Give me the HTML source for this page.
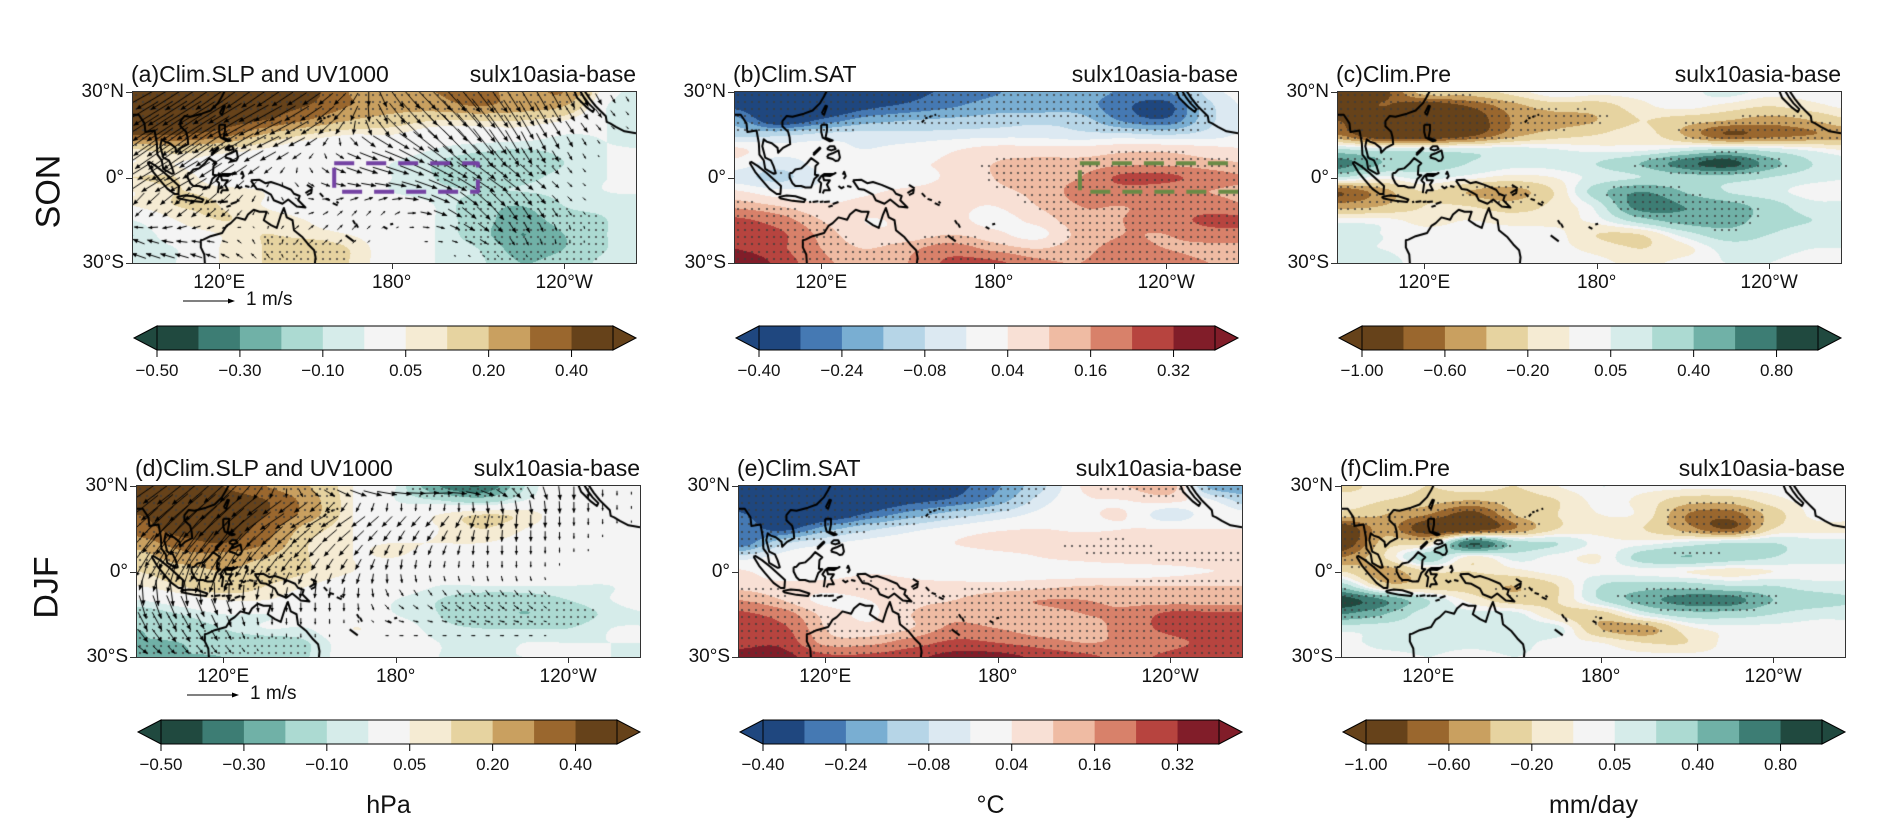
<!DOCTYPE html>
<html><head><meta charset="utf-8">
<style>
body{margin:0;background:#fff;width:1892px;height:838px;position:relative;overflow:hidden;font-family:"Liberation Sans",sans-serif;color:#111}
.abs{position:absolute;white-space:nowrap}
.title{font-size:23px}
.lab{font-size:19px}
.cbl{font-size:17px}
.season{font-size:34px;transform:rotate(-90deg);transform-origin:center}
canvas{position:absolute;display:block}
</style></head>
<body>
<div class="abs season" style="left:12px;top:172px">SON</div>
<div class="abs season" style="left:16px;top:568px">DJF</div>
<div id="root"></div>
<script>
const slpSON=[
[0.45,0.45,0.45,0.45,0.45,0.3,0.3,0.3,0.35,0.25,0.3,0,-0.1],
[0.45,0.45,0.45,0.45,0.4,0.3,0.25,0.25,0.3,0.25,0.2,-0.05,-0.1],
[0.45,0.45,0.45,0.4,0.3,0.2,0.15,0.1,0.1,0.1,0.05,-0.05,-0.1],
[0.4,0.4,0.35,0.2,0.1,0.05,0.05,0,0,0,-0.05,-0.05,-0.1],
[0.1,0.15,0.1,0.05,0,0,0,-0.05,-0.08,-0.1,-0.08,-0.05,-0.05],
[0.05,0.05,0,0,0,0,-0.05,-0.1,-0.15,-0.15,-0.1,-0.05,-0.05],
[0.1,0.1,0,0,0,0,-0.05,-0.1,-0.15,-0.12,-0.08,-0.05,-0.05],
[0.05,0.1,0.08,0.05,0,0,-0.05,-0.08,-0.1,-0.1,-0.08,-0.05,-0.05],
[0.05,0.1,0.1,0.05,0.02,0,0,-0.05,-0.15,-0.2,-0.1,-0.08,-0.05],
[-0.05,0.05,0.1,0.08,0.05,0,0,-0.05,-0.15,-0.25,-0.15,-0.1,-0.05],
[-0.1,0,0.05,0.1,0.08,0.05,0,-0.05,-0.15,-0.3,-0.2,-0.1,-0.08],
[-0.08,-0.05,0.05,0.1,0.15,0.1,0,-0.05,-0.1,-0.25,-0.2,-0.1,-0.08],
[-0.1,-0.05,0.05,0.1,0.15,0.1,0,-0.05,-0.08,-0.2,-0.15,-0.08,-0.08]];
const satSON=[
[-0.45,-0.45,-0.45,-0.4,-0.35,-0.3,-0.25,-0.2,-0.2,-0.25,-0.25,-0.05,0],
[-0.35,-0.45,-0.45,-0.35,-0.3,-0.25,-0.2,-0.2,-0.2,-0.3,-0.35,-0.1,0],
[-0.2,-0.4,-0.3,-0.2,-0.16,-0.14,-0.12,-0.1,-0.12,-0.25,-0.3,-0.1,0],
[-0.1,-0.1,-0.06,-0.05,-0.06,-0.05,-0.04,-0.04,-0.06,-0.06,-0.08,-0.05,0],
[0.05,0,0,-0.02,0,0.03,0.06,0.06,0.06,0.08,0.08,0.06,0.04],
[0.02,-0.05,0,0,0.03,0.05,0.1,0.12,0.12,0.14,0.14,0.12,0.1],
[-0.05,-0.1,-0.02,0.02,0.02,0.05,0.1,0.14,0.16,0.26,0.26,0.2,0.16],
[0.05,0,0,0.03,0.05,0.06,0.08,0.12,0.18,0.2,0.18,0.16,0.14],
[0.14,0.1,0.05,0.06,0.08,0.06,0.04,0.1,0.16,0.16,0.18,0.2,0.16],
[0.26,0.2,0.1,0.04,0.05,0.06,0.02,0.06,0.14,0.16,0.2,0.26,0.26],
[0.3,0.26,0.14,0.06,0.06,0.1,0.06,0.02,0.12,0.16,0.16,0.2,0.2],
[0.32,0.26,0.16,0.1,0.14,0.2,0.14,0.1,0.14,0.18,0.16,0.14,0.14],
[0.4,0.3,0.18,0.14,0.16,0.26,0.26,0.18,0.16,0.2,0.2,0.16,0.16]];
const preSON=[
[-0.9,-0.9,-0.3,-0.3,-0.15,0.05,0,0,0,0.1,0,0,0],
[-1.1,-0.8,-1.0,-0.8,-0.5,-0.3,-0.3,-0.1,0,-0.1,-0.2,-0.1,0],
[-0.8,-1.1,-1.1,-1.0,-0.6,-0.5,-0.4,-0.2,-0.3,-0.4,-0.5,-0.4,-0.2],
[-0.6,-1.1,-1.1,-0.9,-0.5,-0.3,-0.2,-0.1,-0.4,-0.8,-0.7,-0.6,-0.5],
[0.2,0.1,0.1,0.1,0.1,0.05,0,0,0.1,0.2,0.1,0,-0.1],
[0.7,0.4,0.3,0.2,0.1,0.1,0.2,0.4,0.7,0.9,0.5,0.2,0.1],
[0.2,0,0.1,0,-0.1,-0.05,0.1,0.2,0.3,0.3,0.2,0.1,0.05],
[-0.8,-0.5,-0.2,-0.4,-0.5,-0.2,0.3,0.6,0.4,0.2,0.1,0,0],
[-0.5,-0.4,-0.2,-0.2,-0.3,-0.15,0.1,0.7,0.6,0.5,0.3,0.1,0.1],
[0,0,-0.1,-0.05,-0.1,-0.1,0,0.3,0.5,0.5,0.3,0.2,0.15],
[0.1,0.05,0,0,0,0,-0.2,-0.2,0.1,0.3,0.2,0.1,0.1],
[0.05,0.05,0,0,0,0,-0.1,-0.2,-0.1,0.1,0.1,0.05,0.05],
[0.1,0.1,0,0,0,0.05,0,-0.1,0,0.05,0.05,0,0]];
const slpDJF=[
[0.45,0.45,0.4,0.3,0.2,0.05,-0.05,-0.3,-0.4,-0.1,0,0,0],
[0.45,0.45,0.45,0.4,0.25,0.05,-0.05,-0.1,-0.15,-0.05,0,0,0],
[0.4,0.45,0.45,0.4,0.25,0.05,0,0.05,0.1,0.08,0,0,0],
[0.35,0.45,0.45,0.35,0.15,0.05,0,0.05,0.1,0.05,0,0,0],
[0.25,0.35,0.4,0.3,0.1,0.05,0.05,0.05,0.05,0.02,0,0,0],
[0.15,0.25,0.25,0.2,0.1,0.05,0.05,0.02,0,0,0,0,0],
[0.1,0.15,0.2,0.15,0.1,0.05,0,0,0,0,0,0,0],
[0.05,0.1,0.15,0.1,0.05,0,0,-0.05,-0.05,-0.05,-0.05,-0.05,0],
[-0.05,0,0.05,0.05,0,0,-0.05,-0.1,-0.15,-0.15,-0.1,-0.05,0],
[-0.15,-0.1,-0.05,-0.05,0,0,-0.05,-0.1,-0.15,-0.2,-0.15,-0.08,-0.05],
[-0.2,-0.15,-0.1,-0.05,-0.05,0.05,0,-0.08,-0.1,-0.1,-0.1,-0.05,-0.05],
[-0.2,-0.2,-0.15,-0.15,-0.1,0,0,-0.05,-0.08,-0.05,-0.05,-0.05,-0.05],
[-0.2,-0.2,-0.2,-0.15,-0.1,0,0,-0.05,-0.05,-0.05,-0.05,-0.05,-0.05]];
const satDJF=[
[-0.45,-0.45,-0.45,-0.45,-0.4,-0.35,-0.25,-0.1,0.05,0.1,0.14,-0.2,-0.2],
[-0.45,-0.45,-0.45,-0.42,-0.35,-0.3,-0.2,-0.05,0.03,0.04,0.06,-0.02,-0.15],
[-0.3,-0.45,-0.42,-0.3,-0.2,-0.12,-0.06,0,0.03,0.04,-0.06,0.02,0],
[-0.25,-0.35,-0.2,-0.1,-0.04,0,0.03,0.04,0.03,0.04,0.04,0.04,0.04],
[-0.3,-0.1,-0.03,0,0.01,0.04,0.06,0.06,0.08,0.08,0.06,0.06,0.06],
[-0.05,0,0,0.01,0,0,0.02,0.04,0.06,0.08,0.08,0.08,0.08],
[0.05,0,0,0.03,0.02,0,0,0,0,0,0.02,0.04,0.04],
[0.08,0.06,0.06,0.08,0.06,0.06,0.06,0.08,0.1,0.1,0.1,0.1,0.1],
[0.16,0.1,0.02,0.04,0.08,0.1,0.14,0.16,0.16,0.14,0.12,0.12,0.12],
[0.26,0.2,0.08,0.03,0.1,0.14,0.12,0.14,0.16,0.18,0.26,0.26,0.26],
[0.3,0.26,0.1,0.06,0.1,0.18,0.16,0.12,0.12,0.2,0.26,0.3,0.3],
[0.3,0.3,0.14,0.14,0.2,0.26,0.24,0.2,0.16,0.18,0.22,0.26,0.26],
[0.35,0.35,0.26,0.26,0.3,0.35,0.35,0.3,0.26,0.22,0.26,0.3,0.3]];
const preDJF=[
[-0.3,-0.1,-0.2,-0.1,-0.2,-0.05,0.05,0,0,0,0,0,0],
[-0.1,-0.2,-0.3,-0.4,-0.3,-0.2,0,-0.1,-0.3,-0.3,-0.1,0,0],
[-0.3,-0.4,-0.6,-0.9,-0.4,-0.2,-0.05,-0.1,-0.6,-0.7,-0.3,0,0],
[-1.0,-0.5,-1.0,-1.0,-0.6,-0.2,-0.1,-0.2,-0.5,-0.8,-0.2,-0.1,-0.1],
[-1.0,-0.3,-0.2,0.8,0.3,0.2,0,0,0.1,0.2,0.2,0.1,0.1],
[-0.6,-0.2,0.3,-0.1,0.1,0,-0.05,0.3,0.4,0.3,0.2,0.1,0.1],
[-0.2,-0.5,-0.2,-0.2,-0.1,0,0,0,-0.05,-0.1,-0.05,0,0],
[0.3,-0.3,-0.3,-0.3,-0.4,-0.2,0.2,0.3,0.3,0.2,0.2,0.1,0.1],
[0.9,0.6,0.2,-0.1,-0.3,-0.2,0.2,0.5,0.7,0.7,0.4,0.3,0.2],
[0.6,0.4,0.1,0.1,0.1,-0.2,-0.3,0.1,0.3,0.3,0.2,0.1,0.1],
[0.1,0.1,0.1,0.2,0.1,0.1,-0.4,-0.5,-0.1,0,0,0,0],
[0,0.1,0.1,0.1,0.1,0,-0.05,-0.2,-0.2,0,0,0,0],
[0,0,0.05,0,0.05,0,0,0,0,0,0,0,0]];
const uSON=[[-0.6,-0.6,-0.5,-0.4,-0.3,-0.2,0.2,0.4,0.4,0.3,0.2,0.1,0],[-0.8,-0.8,-0.7,-0.6,-0.5,-0.2,0.3,0.5,0.5,0.3,0.2,0.1,0],[-0.7,-0.8,-0.6,-0.4,-0.2,0.2,0.5,0.5,0.4,0.2,0.1,0,0],[-0.5,-0.6,-0.3,-0.1,0.1,0.3,0.4,0.5,0.5,0.3,0.1,0,0],[-0.1,-0.2,-0.2,0,0.1,0.1,0.1,0.3,0.3,0.2,0.1,0,0],[-0.2,-0.2,-0.1,0,0.1,0.1,0,0.1,0.2,0.1,0,0,0],[-0.3,-0.3,-0.2,-0.1,0,0,0,0,0,0,0,0,0]];
const vSON=[[-0.3,-0.4,-0.4,-0.3,-0.2,-0.2,-0.3,-0.4,-0.5,-0.5,-0.4,-0.2,0],[-0.5,-0.5,-0.4,-0.3,-0.3,-0.3,-0.4,-0.5,-0.6,-0.5,-0.3,-0.1,0],[-0.5,-0.6,-0.4,-0.2,-0.1,-0.1,-0.2,-0.4,-0.5,-0.4,-0.2,0,0],[-0.3,-0.3,-0.2,-0.1,-0.1,-0.1,-0.1,-0.2,-0.3,-0.2,-0.1,0,0],[-0.2,-0.2,-0.2,-0.1,0,0.1,0.1,-0.1,-0.3,-0.3,-0.1,0,0],[0.1,0,0,0.1,0.1,0.1,0,0,-0.1,-0.2,-0.1,0,0],[0.1,0.1,0.1,0.1,0,0,0,0,0,0,0,0,0]];
const uDJF=[[-0.5,-0.5,-0.3,0,0.3,0.5,0.6,0.5,0.4,0.2,0,0,0],[-0.6,-0.7,-0.6,-0.5,-0.4,-0.3,-0.2,-0.2,-0.1,0,0,0,0],[-0.5,-0.6,-0.6,-0.4,-0.3,-0.2,-0.1,-0.1,0,0,0,0,0],[-0.2,-0.3,-0.3,-0.2,-0.1,-0.1,0,0,0,0,0,0,0],[0.1,0.2,0.1,0,0,0,0.1,0.1,0.1,0.1,0,0,0],[0.2,0.2,0.1,0,0,0,0.1,0.1,0.1,0.1,0,0,0],[0.2,0.1,0.1,0,0,0,0,0,0,0,0,0,0]];
const vDJF=[[-0.3,-0.4,-0.3,-0.2,-0.1,-0.1,0,0.1,0,-0.2,-0.3,-0.1,0],[-0.5,-0.6,-0.5,-0.3,-0.2,-0.2,-0.2,-0.2,-0.3,-0.3,-0.2,-0.1,0],[-0.6,-0.8,-0.7,-0.4,-0.3,-0.2,-0.2,-0.2,-0.2,-0.2,-0.1,0,0],[-0.4,-0.6,-0.6,-0.3,-0.2,-0.2,-0.2,-0.1,-0.1,-0.1,0,0,0],[-0.5,-0.5,-0.3,-0.2,-0.2,-0.2,-0.1,-0.1,-0.1,-0.1,0,0,0],[-0.3,-0.3,-0.2,-0.1,-0.1,0,0,0,0,0,0,0,0],[-0.1,-0.1,-0.1,0,0,0,0,0,0,0,0,0,0]];
const slpLevels=[-0.5,-0.4,-0.3,-0.2,-0.1,-0.05,0.05,0.1,0.2,0.3,0.4,0.5];
const slpTicks=["−0.50","−0.30","−0.10","0.05","0.20","0.40"];
const satLevels=[-0.4,-0.32,-0.24,-0.16,-0.08,-0.02,0.04,0.1,0.16,0.24,0.32,0.4];
const satTicks=["−0.40","−0.24","−0.08","0.04","0.16","0.32"];
const preLevels=[-1,-0.8,-0.6,-0.4,-0.2,-0.05,0.05,0.2,0.4,0.6,0.8,1];
const preTicks=["−1.00","−0.60","−0.20","0.05","0.40","0.80"];
const lonTicks=[120,180,240];
const lonTickLabels=["120°E","180°","120°W"];
const latTickLabels=["30°N","0°","30°S"];

const BRBG_R=["#20493f","#3d7d74","#70b1a7","#acdad2","#d6ecea","#f4f4f4","#f5ebd3","#e6d3a0","#c9a060","#9a672e","#66421a"];
const RDBU_R=["#1f477f","#4579b3","#79aed2","#b6d5e7","#dce9f2","#f5f5f5","#f8e0d5","#efbba3","#d8816a","#b7443f","#811d29"];
const BRBG=BRBG_R.slice().reverse();

const coast=[
[[90,22],[92,22],[94,19],[94.3,16],[97.5,16.5],[98.3,12],[98.5,8],[100,6],[100.5,3],[103.5,1.3],[104.2,1.5],[103.4,4],[102.5,6],[100.5,7],[100,9],[99.5,11],[100,13.4],[101,12.6],[102.8,12],[104.8,10.4],[105,8.7],[106.7,10.4],[109.2,11.7],[109,14],[108.5,16],[106.5,18],[106.5,19.8],[108,21.6],[110,21.3],[111,21.6],[114,22.4],[117,23.5],[119.5,26],[121,28.5],[122,30.5]],
[[120.2,22.6],[121.5,25.2],[122,25],[121,22],[120.2,22.6]],
[[95.5,5.6],[98,4],[101,1.6],[103.8,-1],[106,-3],[105.8,-5.8],[104.5,-5.8],[102,-4],[99,-0.5],[97,2],[95.2,5],[95.5,5.6]],
[[105.2,-6.8],[108,-6.3],[111,-6.6],[114.5,-7.7],[114,-8.6],[110,-8.2],[106,-7.4],[105.2,-6.8]],
[[109,1.5],[110,1.7],[111,2.8],[113,3.2],[115,5],[116.5,6.8],[117.6,6],[119,5],[118,4],[117.8,1],[119,0.8],[117.6,-0.5],[116.5,-3.5],[114.5,-3.5],[113,-3],[111,-3],[110,-2],[109,0],[109,1.5]],
[[119.5,-5.5],[120,-2],[119,-1],[120,0.5],[121,1.2],[124.5,1.3],[125,1.6],[123,0.5],[120.5,0.7],[121,-1],[123,-1],[122,-2.5],[123,-4.5],[121,-4.5],[120.5,-5.6]],
[[120,18.5],[122,18.5],[122,16.5],[121.5,14],[124,13],[123,12.7],[120.5,14],[120,16],[120,18.5]],
[[122,7],[122.5,8],[124,8.5],[126,9.5],[126.5,7],[126,6],[125,5.8],[124,6.5],[122,7]],
[[122,10],[123,11],[124.5,11],[125,10],[123.5,9.5],[122,10]],
[[117.2,8.3],[119.5,10.5],[119.7,10.2],[117.5,8],[117.2,8.3]],
[[127.5,1],[128,2],[128.5,0.5],[127.8,-0.5]],
[[126,-3],[127,-3.8],[128,-3.2]],[[129,-3],[130.5,-3.3]],
[[115.8,-8.7],[116.5,-8.5]],[[117,-8.6],[119,-8.3]],[[119.5,-8.6],[120.8,-8.4]],[[121,-8.6],[123,-8.4]],[[124,-9.3],[126,-8.6]],[[122.5,-10.3],[124,-9.8]],
[[131,-1],[134,-0.8],[136,-2],[138,-1.6],[141,-2.6],[145,-4.3],[146,-5.7],[148,-6.5],[147.5,-8],[150,-10.5],[147,-10.2],[144,-7.7],[142,-9.2],[139,-8],[138,-6],[135,-4.3],[133,-4],[132,-2.5],[131,-1]],
[[150,-5.5],[151.5,-4.5],[152.2,-4.2],[152,-5.5],[150.5,-6.2]],[[150.5,-2.6],[152.5,-3.8]],
[[155,-5.5],[156.2,-6.8]],[[157,-7.5],[158.5,-8]],[[159.5,-9],[161.2,-9.8]],[[160.8,-8.4],[161.5,-9]],
[[166.5,-15],[167.3,-16.3]],[[167.6,-16.2],[168.3,-17.6]],[[164,-20.3],[166.8,-22.4]],
[[177.2,-17.3],[178.5,-18]],[[179.5,-16.5],[180.5,-16.2]],
[[160,22],[159.4,21.9]],[[158.3,21.5],[157.6,21.2]],[[157,21],[156.2,20.7]],[[155.8,20.2],[155,19.3]],
[[115,-30],[114.8,-27],[113.6,-24.5],[113.6,-22],[114.5,-21.8],[117,-20.6],[121,-19.5],[122.5,-17],[124,-16],[126,-14],[129,-14.8],[130,-13],[132,-11.3],[134,-12],[136.5,-12],[136,-13.5],[135.5,-15],[138,-16.7],[140,-17.7],[141.5,-13],[142.5,-10.7],[143.5,-14],[145.5,-15],[146,-18.5],[149,-21],[151,-23.5],[153,-25.5],[153.5,-28],[153.3,-30]],
[[243.5,30.5],[244.5,28],[246,26.5],[248,24.5],[250,23],[250.5,24],[248.5,26],[247,28],[245.5,30.5]],
[[247,30.5],[249,27.5],[251,25],[254.5,21.5],[254.8,19.5],[256,19],[258,17.8],[261,16.2],[265,15.5]]
];

const W=503,H=171;
const panels=[
 {id:"a",L:133,T:92,f:slpSON,lv:slpLevels,cm:BRBG_R,tk:slpTicks,thr:0.1,u:uSON,v:vSON,title:"(a)Clim.SLP and UV1000",box:[160,210,5,-5,"#7442a3"]},
 {id:"b",L:735,T:92,f:satSON,lv:satLevels,cm:RDBU_R,tk:satTicks,thr:0.09,title:"(b)Clim.SAT",box:[210,266,5,-5,"#6a8a46"]},
 {id:"c",L:1338,T:92,f:preSON,lv:preLevels,cm:BRBG,tk:preTicks,thr:0.35,title:"(c)Clim.Pre"},
 {id:"d",L:137,T:486,f:slpDJF,lv:slpLevels,cm:BRBG_R,tk:slpTicks,thr:0.1,u:uDJF,v:vDJF,title:"(d)Clim.SLP and UV1000",unit:"hPa"},
 {id:"e",L:739,T:486,f:satDJF,lv:satLevels,cm:RDBU_R,tk:satTicks,thr:0.07,title:"(e)Clim.SAT",unit:"°C"},
 {id:"f",L:1342,T:486,f:preDJF,lv:preLevels,cm:BRBG,tk:preTicks,thr:0.35,title:"(f)Clim.Pre",unit:"mm/day"}
];
const xOf=lon=>(lon-90)*W/175;
const yOf=lat=>(30-lat)*H/60;
function cr(p0,p1,p2,p3,t){return 0.5*(2*p1+(-p0+p2)*t+(2*p0-5*p1+4*p2-p3)*t*t+(-p0+3*p1-3*p2+p3)*t*t*t);}
function sample(G,lon,lat){
 const fx=(lon-90)/15,fy=(30-lat)/5;const R=G.length,C=G[0].length;
 const ix=Math.floor(fx),iy=Math.floor(fy),tx=fx-ix,ty=fy-iy;
 const g=(r,c)=>G[Math.max(0,Math.min(R-1,r))][Math.max(0,Math.min(C-1,c))];
 const rows=[];for(let k=-1;k<3;k++){rows.push(cr(g(iy+k,ix-1),g(iy+k,ix),g(iy+k,ix+1),g(iy+k,ix+2),tx));}
 return cr(rows[0],rows[1],rows[2],rows[3],ty);
}
function bil(G,lon,lat){
 const fx=(lon-90)/15,fy=(30-lat)/10;const R=G.length,C=G[0].length;
 const ix=Math.max(0,Math.min(C-2,Math.floor(fx))),iy=Math.max(0,Math.min(R-2,Math.floor(fy)));
 const tx=Math.min(1,Math.max(0,fx-ix)),ty=Math.min(1,Math.max(0,fy-iy));
 return (G[iy][ix]*(1-tx)+G[iy][ix+1]*tx)*(1-ty)+(G[iy+1][ix]*(1-tx)+G[iy+1][ix+1]*tx)*ty;
}
function lvIdx(lv,v){let k=0;while(k<lv.length&&lv[k]<=v)k++;return Math.max(0,Math.min(10,k-1));}
function hex(h){return [parseInt(h.substr(1,2),16),parseInt(h.substr(3,2),16),parseInt(h.substr(5,2),16)];}
const root=document.getElementById('root');
function txt(cls,s,l,t,align,name){
 const d=document.createElement('div');d.className='abs '+cls;d.textContent=s;
 
 
 d.style.top=t+'px';
 if(align==='r'){d.style.right=(1892-l)+'px';}
 else if(align==='c'){d.style.left=(l-200)+'px';d.style.width='400px';d.style.textAlign='center';}
 else d.style.left=l+'px';
 root.appendChild(d);return d;
}
panels.forEach(p=>{
 const cv=document.createElement('canvas');cv.width=W;cv.height=H;
 cv.style.left=p.L+'px';cv.style.top=p.T+'px';
 
 
 root.appendChild(cv);
 const ctx=cv.getContext('2d');const im=ctx.createImageData(W,H);
 const cols=p.cm.map(hex);
 for(let y=0;y<H;y++){const lat=30-(y+0.5)*60/H;
  for(let x=0;x<W;x++){const lon=90+(x+0.5)*175/W;
   const c=cols[lvIdx(p.lv,sample(p.f,lon,lat))];const o=(y*W+x)*4;
   im.data[o]=c[0];im.data[o+1]=c[1];im.data[o+2]=c[2];im.data[o+3]=255;}}
 ctx.putImageData(im,0,0);
 ctx.fillStyle='rgba(60,60,60,0.75)';
 for(let lat=29;lat>-30;lat-=2.5){for(let lon=91;lon<265;lon+=2.5){
  if(Math.abs(sample(p.f,lon,lat))>=p.thr){ctx.fillRect(Math.round(xOf(lon))-1,Math.round(yOf(lat))-1,2,2);}}}
 ctx.strokeStyle='#000';ctx.lineWidth=2;ctx.lineJoin='round';
 coast.forEach(s=>{ctx.beginPath();s.forEach((q,i)=>{const X=xOf(q[0]),Y=yOf(q[1]);i?ctx.lineTo(X,Y):ctx.moveTo(X,Y);});ctx.stroke();});
 if(p.u){ctx.strokeStyle='#000';ctx.fillStyle='#000';ctx.lineWidth=1;
  for(let lat=27.5;lat>-30;lat-=5){for(let lon=92;lon<265;lon+=5){
   const u=bil(p.u,lon,lat),v=bil(p.v,lon,lat);const sc=52;
   const x0=xOf(lon),y0=yOf(lat),dx=u*sc,dy=-v*sc;const L=Math.hypot(dx,dy);if(L<2)continue;
   const x1=x0+dx/2,y1=y0+dy/2,xs=x0-dx/2,ys=y0-dy/2;
   ctx.beginPath();ctx.moveTo(xs,ys);ctx.lineTo(x1,y1);ctx.stroke();
   const ux=dx/L,uy=dy/L,h=Math.min(5,L*0.4);
   ctx.beginPath();ctx.moveTo(x1,y1);ctx.lineTo(x1-ux*h-uy*h*0.45,y1-uy*h+ux*h*0.45);ctx.lineTo(x1-ux*h+uy*h*0.45,y1-uy*h-ux*h*0.45);ctx.fill();}}}
 if(p.box){const b=p.box;ctx.strokeStyle=b[4];ctx.lineWidth=4;ctx.setLineDash([20,12]);
  ctx.strokeRect(xOf(b[0]),yOf(b[2]),xOf(b[1])-xOf(b[0]),yOf(b[3])-yOf(b[2]));ctx.setLineDash([]);}
 const fr=document.createElement('div');fr.className='abs';
 
 
 fr.style.cssText+=`left:${p.L-1}px;top:${p.T-1}px;width:${W}px;height:${H}px;border:1.5px solid #333;`;
 root.appendChild(fr);
 lonTicks.forEach((lon,i)=>{const t=document.createElement('div');t.className='abs';
  
  
  t.style.cssText+=`left:${p.L+xOf(lon)}px;top:${p.T+H}px;width:1px;height:6px;background:#333`;root.appendChild(t);
  txt('lab',lonTickLabels[i],p.L+xOf(lon),p.T+H+9,'c','lon-label');});
 [30,0,-30].forEach((lat,i)=>{const t=document.createElement('div');t.className='abs';
  
  
  t.style.cssText+=`left:${p.L-7}px;top:${p.T+yOf(lat)}px;width:6px;height:1px;background:#333`;root.appendChild(t);
  txt('lab',latTickLabels[i],p.L-9,p.T+yOf(lat)-11,'r','lat-label');});
 txt('title',p.title,p.L-2,p.T-31,'l','panel-title-'+p.id);
 txt('title','sulx10asia-base',p.L+W,p.T-31,'r','experiment-label-'+p.id);
 if(p.u){const ay=p.T+H+35;const a=document.createElement('div');a.className='abs';
  
  
  a.innerHTML=`<svg width="60" height="10"><line x1="0" y1="5" x2="48" y2="5" stroke="#000" stroke-width="1"/><polygon points="52,5 45,2.5 45,7.5" fill="#000"/></svg>`;
  a.style.left=(p.L+50)+'px';a.style.top=(ay-5)+'px';root.appendChild(a);
  txt('lab','1 m/s',p.L+113,ay-9,'l','wind-reference-label');}
 const cy=p.T+233,cx=p.L+24,cw=456,ch=24,sw=cw/11;
 let svg=`<svg width="${W+4}" height="${ch+12}" style="overflow:visible">`;
 svg+=`<polygon points="1,${ch/2+1} 24,1 24,${ch+1}" fill="${p.cm[0]}" stroke="#000" stroke-width="1"/>`;
 svg+=`<polygon points="${W},${ch/2+1} ${W-23},1 ${W-23},${ch+1}" fill="${p.cm[10]}" stroke="#000" stroke-width="1"/>`;
 for(let k=0;k<11;k++)svg+=`<rect x="${24+k*sw}" y="1" width="${sw+0.5}" height="${ch}" fill="${p.cm[k]}"/>`;
 svg+=`<rect x="24" y="1" width="${cw}" height="${ch}" fill="none" stroke="#000" stroke-width="1"/>`;
 for(let k=0;k<6;k++)svg+=`<line x1="${24+2*k*sw}" y1="${ch+1}" x2="${24+2*k*sw}" y2="${ch+8}" stroke="#000"/>`;
 svg+='</svg>';
 const cb=document.createElement('div');cb.className='abs';cb.innerHTML=svg;
 
 
 cb.style.left=(p.L)+'px';cb.style.top=cy+'px';root.appendChild(cb);
 p.tk.forEach((s,k)=>txt('cbl',s,cx+2*k*sw,cy+36,'c','colorbar-tick-label'));
 if(p.unit)txt('title',p.unit,p.L+W/2,cy+72,'c','colorbar-unit-'+p.id).style.fontSize='25px';
});
</script>
</body></html>
